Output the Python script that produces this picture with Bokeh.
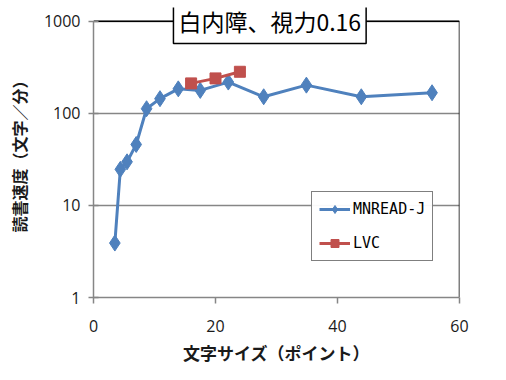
from bokeh.plotting import figure
from bokeh.models import Label, FixedTicker, Range1d, Legend
from bokeh.embed import file_html
from bokeh.resources import INLINE

# data
mn_x = [3.5, 4.4, 5.5, 7.0, 8.7, 10.9, 13.9, 17.5, 22.1, 27.9, 34.9, 43.9, 55.5]
mn_y = [3.9, 24.6, 29.7, 45.8, 112, 144, 184, 177, 218, 151, 202, 151, 167]
lvc_x = [16, 20, 24]
lvc_y = [211, 239, 282]
x_ticks = [0, 20, 40, 60]
y_ticks = [1, 10, 100, 1000]
title_text = "白内障、視力0.16"
x_label = "文字サイズ（ポイント）"
y_label = "読書速度（文字／分）"

BLUE = "#4F81BD"
RED = "#C0504D"
GRAY = "#868686"

# frame extends a little above 1000 so the title box text is not clipped
p = figure(width=496, height=371, y_axis_type="log",
           x_range=Range1d(0, 60), y_range=Range1d(1, 1406),
           output_backend="svg", toolbar_location=None,
           min_border_left=93, min_border_right=37,
           min_border_top=7, min_border_bottom=74)

p.outline_line_color = None
p.xgrid.grid_line_color = None
p.ygrid.grid_line_color = GRAY
p.ygrid.grid_line_width = 1.5

for ax in (p.xaxis[0], p.yaxis[0]):
    ax.axis_line_color = GRAY
    ax.axis_line_width = 1.5
    ax.major_tick_line_color = GRAY
    ax.major_tick_line_width = 1.5
    ax.minor_tick_line_color = None
    ax.major_label_text_font = "Open Sans"
    ax.major_label_text_font_size = "16px"
    ax.major_label_text_color = "#1a1a1a"
    ax.axis_label_text_font = "Noto Sans CJK JP"
    ax.axis_label_text_font_style = "bold"
    ax.axis_label_text_color = "#1a1a1a"

p.xaxis.ticker = FixedTicker(ticks=x_ticks)
p.yaxis.ticker = FixedTicker(ticks=y_ticks)
p.yaxis.bounds = (y_ticks[0], y_ticks[-1])
p.yaxis.major_label_overrides = {t: str(t) for t in y_ticks}
p.xaxis.major_tick_in = 0
p.xaxis.major_tick_out = 6
p.yaxis.major_tick_in = 5
p.yaxis.major_tick_out = 5
p.xaxis.major_label_standoff = 16
p.yaxis.major_label_standoff = 8
p.xaxis.axis_label = x_label
p.yaxis.axis_label = y_label
p.xaxis.axis_label_text_font_size = "17px"
p.yaxis.axis_label_text_font_size = "16px"
p.xaxis.axis_label_standoff = 5
p.yaxis.axis_label_standoff = 10

# top and right plot-area border
p.segment(x0=[x_ticks[0], x_ticks[-1]], y0=[y_ticks[-1], y_ticks[0]],
          x1=[x_ticks[-1], x_ticks[-1]], y1=[y_ticks[-1], y_ticks[-1]],
          line_color="black", line_width=1.5)

l1 = p.line(mn_x, mn_y, line_color=BLUE, line_width=3)
s1 = p.scatter(mn_x, mn_y, marker="diamond", size=16, fill_color=BLUE, line_color=BLUE)
l2 = p.line(lvc_x, lvc_y, line_color=RED, line_width=3)
s2 = p.scatter(lvc_x, lvc_y, marker="square", size=11, fill_color=RED, line_color=RED)

legend = Legend(items=[("MNREAD-J", [l1, s1]), ("LVC", [l2, s2])],
                location=(218, 36))
legend.border_line_color = "black"
legend.border_line_width = 1.5
legend.padding = 7
legend.spacing = 14
legend.margin = 0
legend.glyph_width = 31
legend.label_standoff = 3
legend.label_text_font = "DejaVu Sans Mono"
legend.label_text_font_size = "15px"
legend.label_text_color = "black"
p.add_layout(legend)

title = Label(x=28.9, y=991, text=title_text, text_align="center",
              text_baseline="middle", text_font="Noto Sans CJK JP",
              text_font_size="23px", text_color="black",
              background_fill_color="white", border_line_color="black",
              border_line_width=1.5, padding=5)
p.add_layout(title)

open("out.html", "w").write(file_html(p, INLINE))
